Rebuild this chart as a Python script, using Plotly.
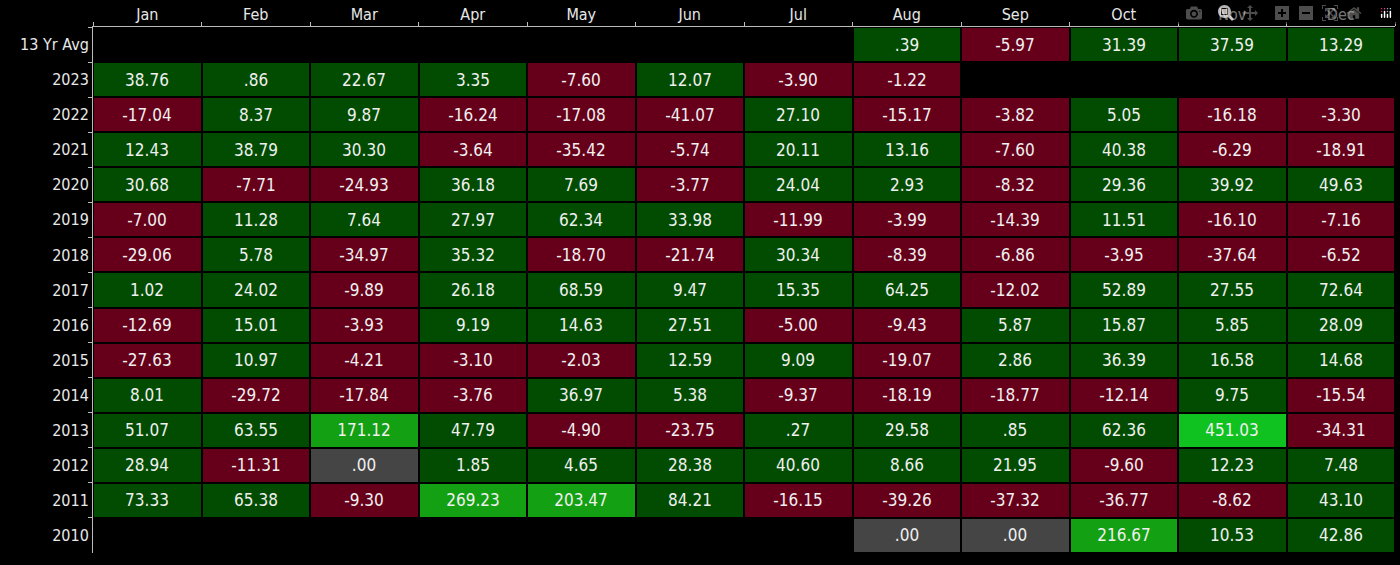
import plotly.graph_objects as go

months = ["Jan","Feb","Mar","Apr","May","Jun","Jul","Aug","Sep","Oct","Nov","Dec"]
rows = ["13 Yr Avg","2023","2022","2021","2020","2019","2018","2017","2016","2015","2014","2013","2012","2011","2010"]
avg  = [None,None,None,None,None,None,None,.39,-5.97,31.39,37.59,13.29]
y2023 = [38.76,.86,22.67,3.35,-7.60,12.07,-3.90,-1.22,None,None,None,None]
y2022 = [-17.04,8.37,9.87,-16.24,-17.08,-41.07,27.10,-15.17,-3.82,5.05,-16.18,-3.30]
y2021 = [12.43,38.79,30.30,-3.64,-35.42,-5.74,20.11,13.16,-7.60,40.38,-6.29,-18.91]
y2020 = [30.68,-7.71,-24.93,36.18,7.69,-3.77,24.04,2.93,-8.32,29.36,39.92,49.63]
y2019 = [-7.00,11.28,7.64,27.97,62.34,33.98,-11.99,-3.99,-14.39,11.51,-16.10,-7.16]
y2018 = [-29.06,5.78,-34.97,35.32,-18.70,-21.74,30.34,-8.39,-6.86,-3.95,-37.64,-6.52]
y2017 = [1.02,24.02,-9.89,26.18,68.59,9.47,15.35,64.25,-12.02,52.89,27.55,72.64]
y2016 = [-12.69,15.01,-3.93,9.19,14.63,27.51,-5.00,-9.43,5.87,15.87,5.85,28.09]
y2015 = [-27.63,10.97,-4.21,-3.10,-2.03,12.59,9.09,-19.07,2.86,36.39,16.58,14.68]
y2014 = [8.01,-29.72,-17.84,-3.76,36.97,5.38,-9.37,-18.19,-18.77,-12.14,9.75,-15.54]
y2013 = [51.07,63.55,171.12,47.79,-4.90,-23.75,.27,29.58,.85,62.36,451.03,-34.31]
y2012 = [28.94,-11.31,.00,1.85,4.65,28.38,40.60,8.66,21.95,-9.60,12.23,7.48]
y2011 = [73.33,65.38,-9.30,269.23,203.47,84.21,-16.15,-39.26,-37.32,-36.77,-8.62,43.10]
y2010 = [None,None,None,None,None,None,None,.00,.00,216.67,10.53,42.86]
table = [avg,y2023,y2022,y2021,y2020,y2019,y2018,y2017,y2016,y2015,y2014,y2013,y2012,y2011,y2010]

def cat(v):
    if v is None: return None
    if v < 0: return 0
    if v == 0: return 1
    if v < 100: return 2
    if v < 300: return 3
    return 4

def fmt(v):
    if v is None: return ""
    s = f"{v:.2f}"
    if s.startswith("0."): s = s[1:]
    if s.startswith("-0."): s = "-" + s[2:]
    return s

z = [[cat(v) for v in r] for r in table]
text = [[fmt(v) for v in r] for r in table]
cols = ["#66001a", "#454545", "#014c01", "#13a013", "#0fc21f"]
cs = []
for i, c in enumerate(cols):
    cs += [[i/5, c], [(i+1)/5, c]]

FONT = "DejaVu Sans Condensed, Liberation Sans Narrow, Arial Narrow, sans-serif"
fig = go.Figure(go.Heatmap(
    z=z, x=months, y=rows, text=text, texttemplate="%{text}",
    textfont=dict(color="#f0f0f0", size=17, family=FONT),
    colorscale=cs, zmin=0, zmax=5, showscale=False, xgap=2, ygap=2, hoverinfo="skip"))
fig.update_layout(
    width=1400, height=565, paper_bgcolor="black", plot_bgcolor="black",
    margin=dict(l=93, r=5, t=22, b=12),
    font=dict(color="#e8e8e8", size=16, family=FONT),
    xaxis=dict(side="top", showgrid=False, zeroline=False, showline=True, linecolor="#bbbbbb",
               ticks="outside", ticklen=4, tickcolor="#bbbbbb", tickson="boundaries"),
    yaxis=dict(autorange="reversed", showgrid=False, zeroline=False, showline=True, linecolor="#bbbbbb",
               ticks="outside", ticklen=4, tickcolor="#bbbbbb", tickson="boundaries"),
)
fig.write_html("out.html")
with open("out.html", encoding="utf-8") as f:
    html = f.read()
html = html.replace("<head>", "<head><style>html,body{margin:0;padding:0;background:black;overflow:hidden}</style>", 1)
with open("out.html", "w", encoding="utf-8") as f:
    f.write(html)
